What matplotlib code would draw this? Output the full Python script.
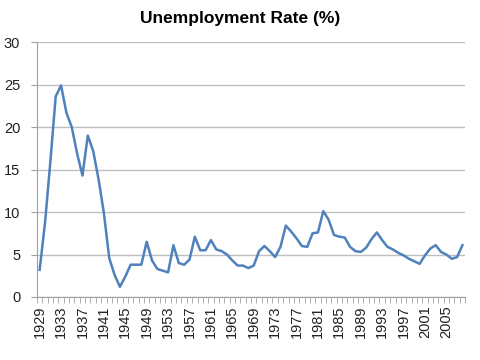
import matplotlib.pyplot as plt
import numpy as np

years = list(range(1929, 2009))
rate = [3.2, 8.7, 15.9, 23.6, 24.9, 21.7, 20.0, 16.9, 14.3, 19.0,
        17.2, 13.9, 9.9, 4.6, 2.6, 1.2, 2.4, 3.8, 3.8, 3.8,
        6.5, 4.3, 3.3, 3.1, 2.9, 6.1, 4.0, 3.8, 4.4, 7.1,
        5.5, 5.5, 6.7, 5.6, 5.4, 5.0, 4.3, 3.7, 3.7, 3.4,
        3.7, 5.4, 6.0, 5.4, 4.7, 5.9, 8.4, 7.7, 6.9, 6.0,
        5.9, 7.5, 7.6, 10.1, 9.1, 7.3, 7.1, 7.0, 5.9, 5.4,
        5.3, 5.8, 6.8, 7.6, 6.7, 5.9, 5.6, 5.2, 4.9, 4.5,
        4.2, 3.9, 4.9, 5.7, 6.1, 5.3, 5.0, 4.5, 4.7, 6.1]

plt.rcParams['font.family'] = ['Liberation Sans', 'DejaVu Sans']

fig = plt.figure(figsize=(4.8, 3.6), dpi=100)
ax = fig.add_axes([0.077, 0.175, 0.892, 0.708])

x = np.arange(len(years))
ax.plot(x, rate, color='#4F81BD', linewidth=1.8)

ax.set_xlim(-0.5, len(years) - 0.5)
ax.set_ylim(0, 30)
ax.set_yticks(range(0, 31, 5))
ax.yaxis.grid(True, color='#BFBFBF', linewidth=1)
ax.set_axisbelow(True)

ax.set_xticks(x[::4])
ax.set_xticklabels([str(y) for y in years[::4]], rotation=90)
ax.set_xticks(np.arange(-0.5, len(years), 1), minor=True)
ax.tick_params(axis='x', which='major', length=0, pad=6, labelsize=10.5, colors='#222222')
ax.tick_params(axis='x', which='minor', length=4, color='#A0A0A0')
ax.tick_params(axis='y', length=4, color='#A0A0A0', labelsize=10.5, pad=8, labelcolor='#222222')

for s in ['top', 'right']:
    ax.spines[s].set_visible(False)
for s in ['left', 'bottom']:
    ax.spines[s].set_color('#A0A0A0')

fig.text(0.5, 0.95, 'Unemployment Rate (%)', ha='center', va='center',
         fontsize=12.5, fontweight='bold')

fig.savefig('out.png', dpi=100)
